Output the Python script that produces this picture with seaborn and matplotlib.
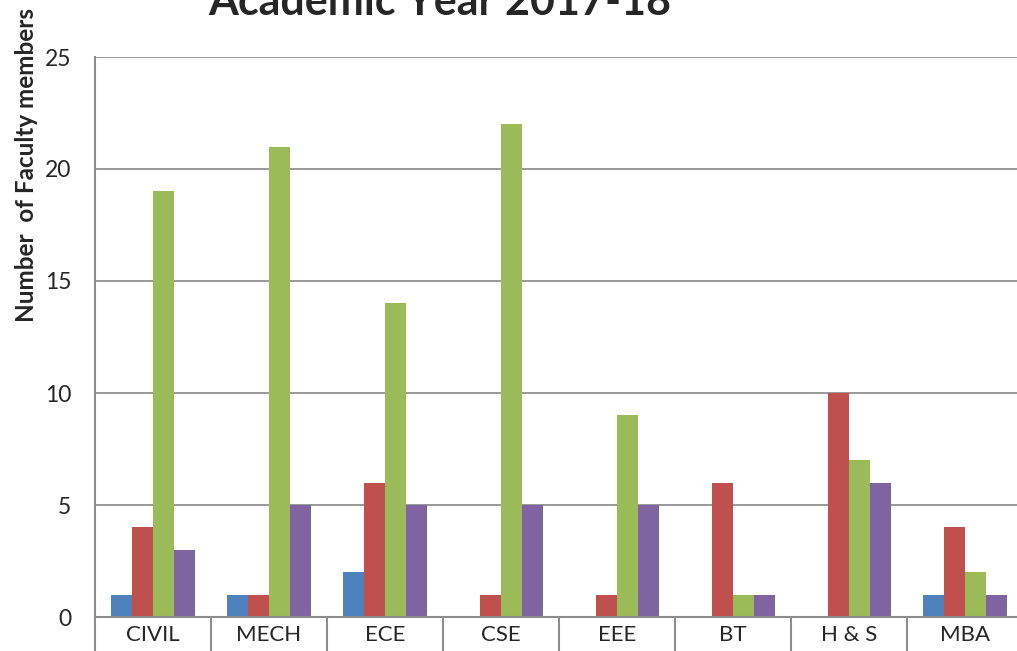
import numpy as np
import pandas as pd
import seaborn as sns
import matplotlib.pyplot as plt
from matplotlib.ticker import FixedLocator

depts = ["CIVIL", "MECH", "ECE", "CSE", "EEE", "BT", "H & S", "MBA"]
series_names = ["Series 1", "Series 2", "Series 3", "Series 4"]
s1 = [1, 1, 2, 0, 0, 0, 0, 1]
s2 = [4, 1, 6, 1, 1, 6, 10, 4]
s3 = [19, 21, 14, 22, 9, 1, 7, 2]
s4 = [3, 5, 5, 5, 5, 1, 6, 1]
colors = ["#4F81BD", "#C0504D", "#9BBB59", "#8064A2"]

rows = []
for name, vals in zip(series_names, [s1, s2, s3, s4]):
    for d, v in zip(depts, vals):
        rows.append({"Department": d, "Series": name, "Count": v})
df = pd.DataFrame(rows)

sns.set_style("white")
plt.rcParams["font.family"] = ["Lato", "DejaVu Sans"]

fig = plt.figure(figsize=(10.17, 6.51), dpi=100)
ax = fig.add_axes([95/1017, 34/651, 928/1017, 560/651])

sns.barplot(data=df, x="Department", y="Count", hue="Series", order=depts,
            hue_order=series_names, palette=colors, saturation=1, width=0.72, gap=0,
            linewidth=0, ax=ax, legend=False)

ax.set_xlim(-0.5, len(depts) - 0.5)
ax.set_ylim(0, 25)
ax.set_yticks(np.arange(0, 26, 5))
ax.yaxis.grid(True, color="#878787", linewidth=1.2)
ax.set_axisbelow(True)

for side in ["top", "right"]:
    ax.spines[side].set_visible(False)
for side in ["left", "bottom"]:
    ax.spines[side].set_color("#8c8c8c")
    ax.spines[side].set_linewidth(1.5)

ax.tick_params(axis="y", length=0, pad=17, labelsize=16.5)
ax.tick_params(axis="x", which="major", length=0, pad=6, labelsize=16)
ax.xaxis.set_minor_locator(FixedLocator(np.arange(-0.5, len(depts), 1)))
ax.tick_params(axis="x", which="minor", bottom=True, length=30, width=1.5,
               color="#8c8c8c", direction="out")

ax.set_xlabel("")
ax.set_ylabel("Number  of Faculty members", fontsize=17.5, fontweight="bold")
ax.yaxis.set_label_coords(-0.061, 0.807)

fig.text(440/1017, 1 - 15/651, "Academic Year 2017-18", ha="center", va="baseline",
         fontsize=31, fontweight="bold")

fig.savefig("out.png", dpi=100)
